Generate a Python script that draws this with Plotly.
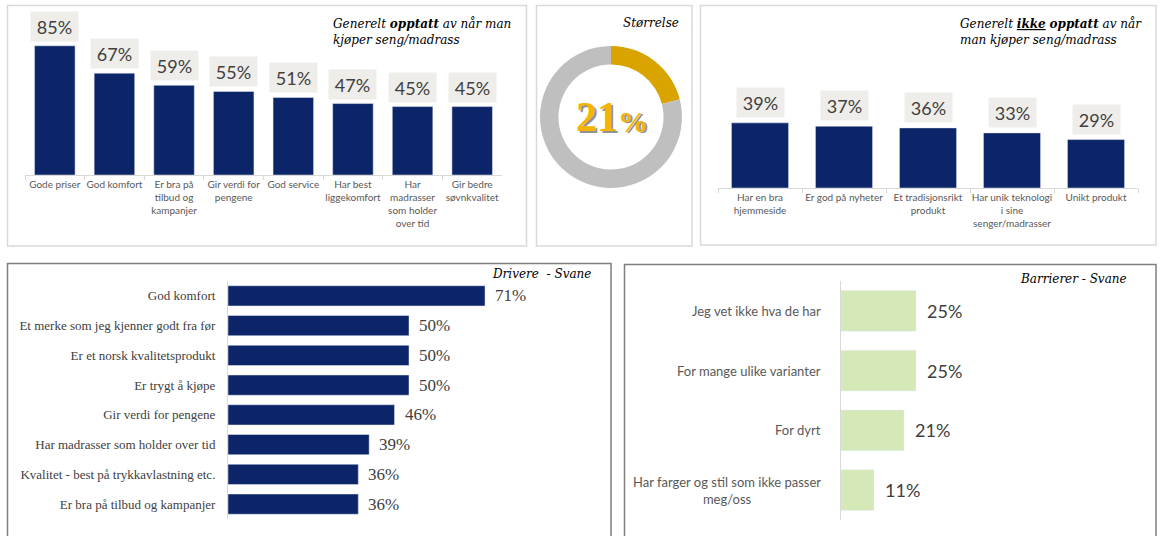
import plotly.graph_objects as go

W, H = 1161, 536

# ---------------- data ----------------
care_cats = ["Gode priser", "God komfort", "Er bra på<br>tilbud og<br>kampanjer", "Gir verdi for<br>pengene",
             "God service", "Har best<br>liggekomfort", "Har<br>madrasser<br>som holder<br>over tid",
             "Gir bedre<br>søvnkvalitet"]
care_vals = [85, 67, 59, 55, 51, 47, 45, 45]

notcare_cats = ["Har en bra<br>hjemmeside", "Er god på nyheter", "Et tradisjonsrikt<br>produkt",
                "Har unik teknologi<br>i sine<br>senger/madrasser", "Unikt produkt"]
notcare_vals = [39, 37, 36, 33, 29]

size_value = 21

driver_cats = ["God komfort", "Et merke som jeg kjenner godt fra før", "Er et norsk kvalitetsprodukt",
               "Er trygt å kjøpe", "Gir verdi for pengene", "Har madrasser som holder over tid",
               "Kvalitet - best på trykkavlastning etc.", "Er bra på tilbud og kampanjer"]
driver_vals = [71, 50, 50, 50, 46, 39, 36, 36]

barrier_cats = ["Jeg vet ikke hva de har", "For mange ulike varianter", "For dyrt",
                "Har farger og stil som ikke passer<br>meg/oss"]
barrier_vals = [25, 25, 21, 11]

# ---------------- helpers ----------------
def px(x):
    return x / W

def py(y):
    return 1 - y / H

NAVY = "#0C2568"
GREEN = "#D5E8B7"
GOLD = "#D9A300"
GREYRING = "#BFBFBF"
TXT = "#404040"
LBL = "#595959"
SANS = "Lato"
SERIF = "Liberation Serif"
TITLEF = "DejaVu Serif"

fig = go.Figure()

fig.add_trace(go.Bar(x=care_cats, y=care_vals, marker_color=NAVY, xaxis="x", yaxis="y",
                     hoverinfo="skip"))
fig.add_trace(go.Bar(x=notcare_cats, y=notcare_vals, marker_color=NAVY, xaxis="x2", yaxis="y2",
                     hoverinfo="skip"))
fig.add_trace(go.Bar(y=driver_cats, x=driver_vals, orientation="h", marker_color=NAVY,
                     xaxis="x3", yaxis="y3", hoverinfo="skip"))
fig.add_trace(go.Bar(y=barrier_cats, x=barrier_vals, orientation="h", marker_color=GREEN,
                     xaxis="x4", yaxis="y4", hoverinfo="skip"))
fig.add_trace(go.Pie(values=[size_value, 100 - size_value], hole=0.74, sort=False,
                     direction="clockwise", rotation=0, marker=dict(colors=[GOLD, GREYRING]),
                     textinfo="none", hoverinfo="skip", showlegend=False,
                     domain=dict(x=[px(540), px(682)], y=[py(188), py(46)])))

cat_axis = dict(showline=True, linecolor="#D9D9D9", linewidth=1, ticks="outside", tickson="boundaries",
                ticklen=4, tickcolor="#D9D9D9", showgrid=False, zeroline=False, tickangle=0,
                tickfont=dict(family=SANS, size=10, color=LBL), fixedrange=True)

annotations = []

for c, v in zip(care_cats, care_vals):
    annotations.append(dict(x=c, y=v, xref="x", yref="y", text=f"{v}%", showarrow=False,
                            yanchor="bottom", yshift=4, bgcolor="#EEEDE9", width=45, height=27,
                            font=dict(family=SANS, size=18, color=TXT)))
for c, v in zip(notcare_cats, notcare_vals):
    annotations.append(dict(x=c, y=v, xref="x2", yref="y2", text=f"{v}%", showarrow=False,
                            yanchor="bottom", yshift=5, bgcolor="#EEEDE9", width=45, height=27,
                            font=dict(family=SANS, size=18, color=TXT)))
for c, v in zip(driver_cats, driver_vals):
    annotations.append(dict(x=v, y=c, xref="x3", yref="y3", text=f"{v}%", showarrow=False,
                            xanchor="left", xshift=8,
                            font=dict(family=SERIF, size=17, color=TXT)))
for c, v in zip(barrier_cats, barrier_vals):
    annotations.append(dict(x=v, y=c, xref="x4", yref="y4", text=f"{v}%", showarrow=False,
                            xanchor="left", xshift=9,
                            font=dict(family=SANS, size=18, color=TXT)))
    annotations.append(dict(x=0, y=c, xref="x4", yref="y4", text=c, showarrow=False,
                            xanchor="right", xshift=-18, align="center",
                            font=dict(family=SANS, size=13, color=LBL)))

annotations += [
    dict(x=px(331), y=py(14), xref="paper", yref="paper", xanchor="left", yanchor="top",
         align="left", showarrow=False,
         text="<i>Generelt <b>opptatt</b> av når man<br>kjøper seng/madrass</i>",
         font=dict(family=TITLEF, size=12, color="#000000")),
    dict(x=px(681), y=py(14), xref="paper", yref="paper", xanchor="right", yanchor="top",
         showarrow=False, text="<i>Størrelse</i>",
         font=dict(family=TITLEF, size=12, color="#000000")),
    dict(x=px(958), y=py(14), xref="paper", yref="paper", xanchor="left", yanchor="top",
         align="left", showarrow=False,
         text="<i>Generelt <b><u>ikke</u></b> <b>opptatt</b> av når<br>man kjøper seng/madrass</i>",
         font=dict(family=TITLEF, size=12, color="#000000")),
    dict(x=px(593), y=py(265), xref="paper", yref="paper", xanchor="right", yanchor="top",
         showarrow=False, text="<i>Drivere  - Svane</i>",
         font=dict(family=TITLEF, size=12, color="#000000")),
    dict(x=px(1129), y=py(270), xref="paper", yref="paper", xanchor="right", yanchor="top",
         showarrow=False, text="<i>Barrierer - Svane</i>",
         font=dict(family=TITLEF, size=12, color="#000000")),
]

# donut centre text: number and percent sign as separate pieces (shadow + gold)
for dx, dy, col in [(1.5, -1.5, "rgba(110,110,110,0.75)"), (0, 0, "#F4B400")]:
    annotations.append(dict(x=px(620), y=py(117), xref="paper", yref="paper", text=f"<b>{size_value}</b>",
                            showarrow=False, xanchor="right", yanchor="middle", xshift=dx, yshift=dy,
                            font=dict(family=SERIF, size=42, color=col)))
    annotations.append(dict(x=px(616), y=py(121), xref="paper", yref="paper", text="<b>%</b>",
                            showarrow=False, xanchor="left", yanchor="middle", xshift=dx, yshift=dy,
                            font=dict(family=SERIF, size=30, color=col)))

shapes = []
def box(x0, y0, x1, y1, color, w):
    shapes.append(dict(type="rect", xref="paper", yref="paper", x0=px(x0), x1=px(x1),
                       y0=py(y1), y1=py(y0), line=dict(color=color, width=w), fillcolor="rgba(0,0,0,0)",
                       layer="below"))
box(7.5, 5.5, 526.5, 246, "#D9D9D9", 1.5)
box(536.5, 5.5, 692, 246, "#D9D9D9", 1.5)
box(700.5, 5.5, 1156, 245, "#D9D9D9", 1.5)
box(7.5, 263.5, 611, 545, "#7F7F7F", 1.5)
box(624.5, 264.5, 1156, 545, "#7F7F7F", 1.5)

fig.update_layout(
    width=W, height=H, autosize=False, margin=dict(l=0, r=0, t=0, b=0, pad=0),
    paper_bgcolor="white", plot_bgcolor="rgba(0,0,0,0)",
    showlegend=False, bargap=0.32,
    xaxis=dict(domain=[px(25), px(502)], anchor="y", **cat_axis),
    yaxis=dict(domain=[py(175), py(23)], anchor="x", range=[0, 100], visible=False, fixedrange=True),
    xaxis2=dict(domain=[px(718), px(1138)], anchor="y2", **cat_axis),
    yaxis2=dict(domain=[py(188), py(21)], anchor="x2", range=[0, 100], visible=False, fixedrange=True),
    xaxis3=dict(domain=[px(228), px(590)], anchor="y3", range=[0, 100], visible=False, fixedrange=True),
    yaxis3=dict(domain=[py(519), py(281)], anchor="x3", autorange="reversed", showline=True,
                linecolor="#D9D9D9", linewidth=1, ticks="", showgrid=False, zeroline=False,
                ticklabelstandoff=9, tickfont=dict(family=SERIF, size=13, color=TXT), fixedrange=True),
    xaxis4=dict(domain=[px(841), px(1141)], anchor="y4", range=[0, 100], visible=False, fixedrange=True),
    yaxis4=dict(domain=[py(520), py(281)], anchor="x4", autorange="reversed", showline=True,
                linecolor="#D9D9D9", linewidth=1, ticks="", showgrid=False, zeroline=False,
                showticklabels=False, fixedrange=True),
    annotations=annotations, shapes=shapes,
)

fig.write_html("out.html", config={"responsive": False, "displayModeBar": False},
               post_script="document.body.style.margin='0';document.body.style.overflow='hidden';"
                           "document.documentElement.style.overflow='hidden';")
